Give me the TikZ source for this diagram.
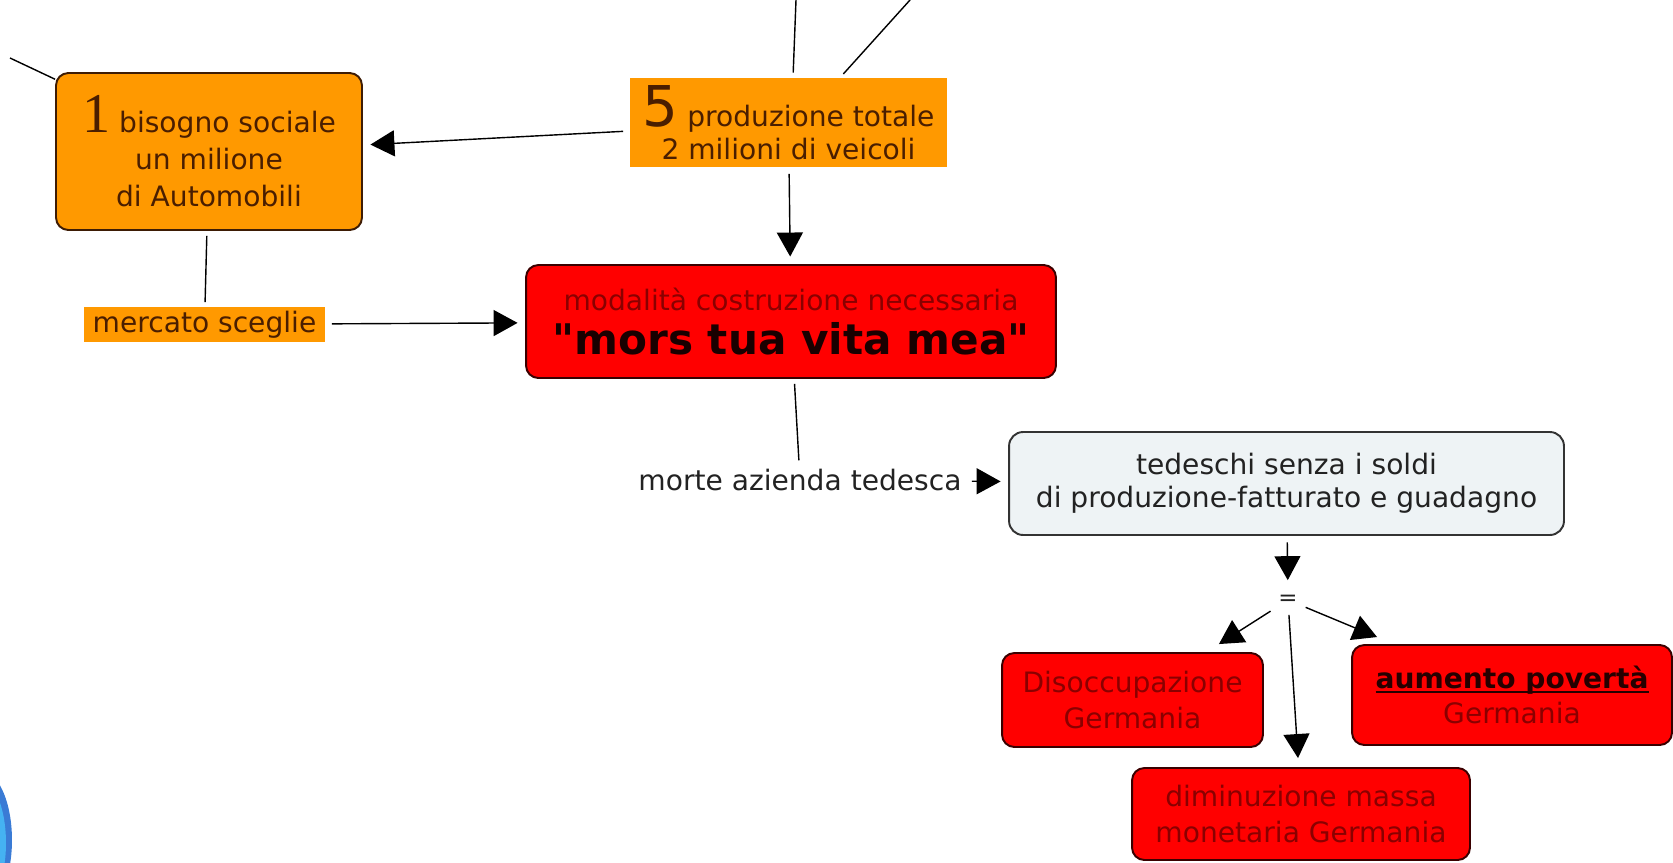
\documentclass[tikz,border=0pt]{standalone}
\usepackage{fontspec}
\setmainfont{DejaVu Sans}
\newfontfamily\numserif{Liberation Serif}
\newfontfamily\straightfont{DejaVu Sans}
\usetikzlibrary{arrows.meta, calc}
\definecolor{ConceptOrange}{HTML}{FF9900}
\definecolor{OrangeEdge}{HTML}{3D1C05}
\definecolor{BrownText}{HTML}{4A1E00}
\definecolor{ConceptRed}{HTML}{FF0000}
\definecolor{RedEdge}{HTML}{3A0000}
\definecolor{DarkRedText}{HTML}{8A0000}
\definecolor{PaleGray}{HTML}{EEF3F5}
\definecolor{GrayEdge}{HTML}{333333}
\definecolor{InkGray}{HTML}{222222}
\definecolor{LogoBlue}{HTML}{45B2F2}
\definecolor{LogoEdge}{HTML}{3A7BD5}
\newcommand{\tightunder}[1]{{\setbox0\hbox{#1}\rlap{\rule[-2.6pt]{\wd0}{1.4pt}}\box0}}
\tikzset{
  orangebox/.style={draw=OrangeEdge, line width=1.1pt, rounded corners=7pt, fill=ConceptOrange, text=BrownText, align=center, inner sep=2pt, font=\fontsize{16}{21}\selectfont},
  orangelabel/.style={fill=ConceptOrange, text=BrownText, align=center, inner sep=2pt, font=\fontsize{16}{19}\selectfont},
  redbox/.style={draw=RedEdge, line width=1.1pt, rounded corners=7pt, fill=ConceptRed, text=DarkRedText, align=center, inner sep=2pt, font=\fontsize{16}{20}\selectfont},
  graybox/.style={draw=GrayEdge, line width=1.1pt, rounded corners=8pt, fill=PaleGray, text=InkGray, align=center, inner sep=2pt, font=\fontsize{16}{19}\selectfont},
  phrase/.style={text=InkGray, inner sep=2pt, font=\fontsize{16}{19}\selectfont},
  link/.style={-{Triangle[length=4.8mm, width=5.2mm]}, line width=0.8pt, shorten <=1.3mm, shorten >=1.5mm},
  plainlink/.style={line width=0.8pt, shorten <=1mm, shorten >=1mm}
}

\begin{document}
\begin{tikzpicture}[x=0.02cm, y=-0.02cm]
\useasboundingbox (0,0) rectangle (1673,862);
% corner of the logo
\begin{scope}
\clip (0,0) rectangle (1673,862);
\fill[LogoEdge] (-20,840) ellipse [x radius=0.64cm, y radius=1.4cm];
\fill[LogoBlue] (-22,843) ellipse [x radius=0.56cm, y radius=1.3cm];
\end{scope}

\node[orangebox, minimum width=6.12cm, minimum height=3.14cm] (need) at (209,151.5) {{\numserif\fontsize{32}{32}\selectfont 1} bisogno sociale\\un milione\\di Automobili};
\node[orangelabel, minimum width=6.34cm, minimum height=1.78cm] (output) at (788.5,122.5) {{\fontsize{32}{32}\selectfont 5} produzione totale\\2 milioni di veicoli};
\node[orangelabel, minimum width=4.82cm, minimum height=0.66cm] (market) at (204.5,324.5) {mercato sceglie};
\node[redbox, minimum width=10.6cm, minimum height=2.26cm] (mors) at (791,321.5) {modalità costruzione necessaria\\[5pt]{\fontsize{24}{26}\selectfont\bfseries\color{black!90!red}{\straightfont"}mors tua vita mea{\straightfont"}}};
\node[phrase] (death) at (800,480) {morte azienda tedesca};
\node[graybox, minimum width=11.1cm, minimum height=2.06cm] (germans) at (1286.5,483.5) {tedeschi senza i soldi\\di produzione-fatturato e guadagno};
\node[text=InkGray, font=\fontsize{13}{13}\selectfont, minimum width=0.6cm, minimum height=0.48cm, inner sep=0pt] (equals) at (1288,600) {=};
\node[redbox, minimum width=5.22cm, minimum height=1.88cm] (jobless) at (1132.5,700) {Disoccupazione\\Germania};
\node[redbox, minimum width=6.4cm, minimum height=2.0cm] (poverty) at (1512,695) {{\bfseries\color{black!85!red}\tightunder{aumento povertà}}\\Germania};
\node[redbox, minimum width=6.76cm, minimum height=1.84cm] (money) at (1301,814) {diminuzione massa\\monetaria Germania};

% free ends leaving the picture
\coordinate (offleft) at (10,58);
\coordinate (offtop) at (796,0);
\coordinate (offright) at (910,0);
\draw[line width=0.8pt] (need) -- (offleft);
\draw[line width=0.8pt, shorten <=1mm] ($(output.north)+(4.5,0)$) -- (offtop);
\draw[line width=0.8pt, shorten <=1mm] ($(output.north)+(51.5,0)$) -- (offright);

\draw[link] ($(output.west)+(0,8.5)$) -- ($(need.east)+(0,-6.5)$);
\draw[link] (output) -- (mors);
\draw[plainlink] (need) -- (market);
\draw[link] (market) -- (mors);
\draw[plainlink] (mors) -- (death);
\draw[link] (death) -- (germans);
\draw[link] (germans) -- (equals);
\draw[link, shorten <=0.5mm, shorten >=0pt] (equals) -- ($(jobless.north east)+(-45,-8)$);
\draw[link, shorten <=0.5mm, shorten >=0pt] (equals) -- ($(poverty.north west)+(26,-7)$);
\draw[link, shorten <=0.5mm, shorten >=0pt] (equals) -- ($(money.north)+(-3,-9)$);
\end{tikzpicture}
\end{document}
